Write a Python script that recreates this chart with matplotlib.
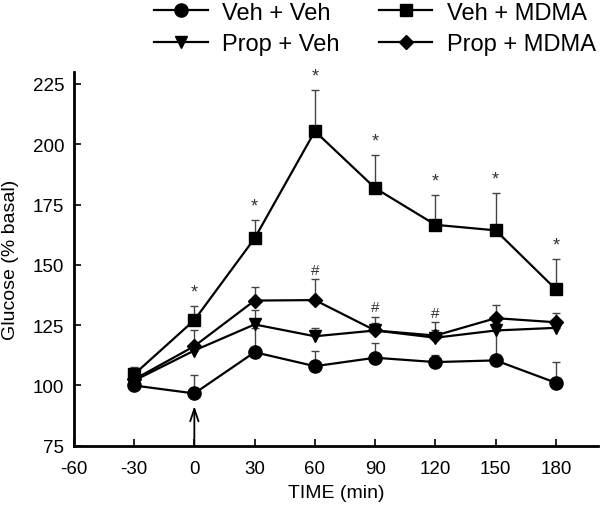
import matplotlib
matplotlib.use("Agg")
import matplotlib.pyplot as plt
import numpy as np

plt.rcParams['font.family'] = ['Liberation Sans', 'DejaVu Sans']
plt.rcParams['axes.unicode_minus'] = False

time = [-30, 0, 30, 60, 90, 120, 150, 180]

veh_veh = [100.0, 96.7, 113.8, 108.0, 111.5, 109.7, 110.4, 101.1]
veh_veh_err = [2.0, 7.6, 10.0, 6.2, 6.2, 3.0, 12.0, 8.6]

veh_mdma = [104.6, 127.1, 161.0, 205.4, 181.8, 166.6, 164.3, 139.8]
veh_mdma_err = [3.0, 5.8, 7.4, 17.0, 13.6, 12.3, 15.3, 12.7]

prop_veh = [102.0, 114.5, 125.3, 120.4, 122.8, 119.8, 122.8, 123.9]
prop_veh_err = [2.0, 3.0, 5.8, 3.4, 3.0, 3.0, 3.0, 3.0]

prop_mdma = [102.5, 116.3, 135.2, 135.4, 122.8, 120.7, 127.9, 126.2]
prop_mdma_err = [2.0, 6.5, 5.6, 8.6, 5.5, 5.5, 5.6, 3.7]

star_times = [0, 30, 60, 90, 120, 150, 180]
hash_times = [60, 90, 120]

xticks = [-60, -30, 0, 30, 60, 90, 120, 150, 180]
yticks = [75, 100, 125, 150, 175, 200, 225]

fig = plt.figure(figsize=(6.0, 5.06), dpi=100)
ax = fig.add_axes([0.123, 0.117, 0.874, 0.739])

series = [
    ("Veh + Veh", veh_veh, veh_veh_err, 'o', 9.5),
    ("Veh + MDMA", veh_mdma, veh_mdma_err, 's', 9.0),
    ("Prop + Veh", prop_veh, prop_veh_err, 'v', 9.0),
    ("Prop + MDMA", prop_mdma, prop_mdma_err, 'D', 7.5),
]

handles = {}
for label, y, e, m, ms in series:
    ax.errorbar(time, y, yerr=[np.zeros(len(e)), e], fmt='none', ecolor='#444444',
                elinewidth=1.0, capsize=3, capthick=1.0, zorder=2)
    h, = ax.plot(time, y, color='black', lw=1.6, marker=m, ms=ms,
                 markerfacecolor='black', markeredgecolor='black', label=label, zorder=3)
    handles[label] = h

for t in star_times:
    i = time.index(t)
    ax.annotate('*', (t, veh_mdma[i] + veh_mdma_err[i]), xytext=(0, 4),
                textcoords='offset points', ha='center', va='bottom',
                fontsize=13, color='#333333')
for t in hash_times:
    i = time.index(t)
    ax.annotate('#', (t, prop_mdma[i] + prop_mdma_err[i]), xytext=(0, 2),
                textcoords='offset points', ha='center', va='bottom',
                fontsize=11, color='#333333')

ax.annotate('', xy=(0, 91.5), xytext=(0, 75),
            arrowprops=dict(arrowstyle='->,head_length=0.9,head_width=0.3',
                            lw=1.3, color='black', shrinkA=0, shrinkB=0))

ax.set_xlim(-60, 201)
ax.set_ylim(75, 230)
ax.set_xticks(xticks)
ax.set_yticks(yticks)
for s in ['top', 'right']:
    ax.spines[s].set_visible(False)
for s in ['left', 'bottom']:
    ax.spines[s].set_linewidth(2.0)
ax.tick_params(direction='in', length=5, width=1.2, labelsize=13.5)
ax.tick_params(axis='x', pad=10)
ax.tick_params(axis='y', pad=7)
ax.set_xlabel('TIME (min)', fontsize=14, labelpad=5)
ax.set_ylabel('Glucose (% basal)', fontsize=14)
ax.yaxis.set_label_coords(-0.105, 0.5)

order = ["Veh + Veh", "Prop + Veh", "Veh + MDMA", "Prop + MDMA"]
fig.legend([handles[k] for k in order], order, ncol=2, loc='upper center',
           bbox_to_anchor=(0.625, 1.037), frameon=False, fontsize=17,
           handlelength=2.25, columnspacing=1.7, handletextpad=0.6,
           labelspacing=0.42)

fig.savefig('out.png', dpi=100)
